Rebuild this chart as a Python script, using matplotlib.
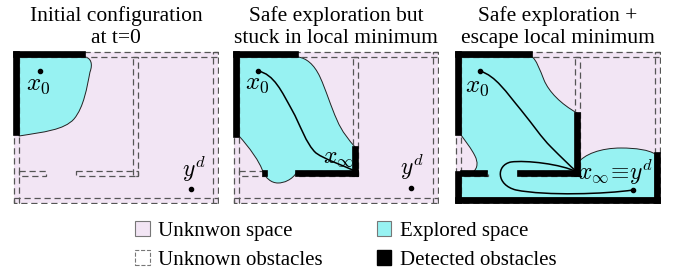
import matplotlib
matplotlib.use("Agg")
import matplotlib.pyplot as plt
from matplotlib.patches import Rectangle, PathPatch, Patch
from matplotlib.path import Path

plt.rcParams['font.family'] = ['Liberation Serif', 'DejaVu Serif']
plt.rcParams['mathtext.fontset'] = 'cm'

PINK = '#F2E5F4'
CYAN = '#97F2F2'
DASH = '#555555'

# panel titles
titles = ["Initial configuration\nat t=0",
          "Safe exploration but\nstuck in local minimum",
          "Safe exploration +\nescape local minimum"]
panel_left = [14, 234, 456]   # pixel position of each panel

# map walls (x, y, w, h) in panel units, y downwards
walls = [(0, 0, 204, 5), (0, 146, 204, 5), (0, 0, 5, 151), (199, 0, 5, 151),
         (119, 5, 5, 119), (62, 119, 62, 5), (5, 119, 27, 5)]

# detected obstacles per panel
detected = [
    [(0, 0, 71, 5), (0, 0, 5, 83)],
    [(0, 0, 64, 5), (0, 0, 5, 85), (119, 95, 5, 29), (62, 119, 62, 5), (29, 119, 4, 5)],
    [(0, 0, 76, 5), (0, 0, 5, 83), (0, 120, 5, 31), (0, 146, 204, 5),
     (199, 101, 5, 50), (119, 61, 5, 63), (62, 119, 62, 5), (5, 119, 26, 5)],
]

# explored regions (path commands)
explored = [
    [('M', (5, 5)), ('L', (71, 5)), ('C', (77, 6), (79, 12), (76, 20)),
     ('C', (73, 35), (70, 55), (60, 67)), ('C', (50, 78), (30, 80), (5, 84)), ('Z',)],
    [('M', (5, 5)), ('L', (64, 5)), ('C', (72, 6), (80, 12), (86, 25)),
     ('C', (92, 38), (97, 55), (103, 68)), ('C', (108, 80), (115, 88), (121, 95)),
     ('L', (121, 120)), ('L', (63, 120)), ('C', (58, 128), (50, 131), (44, 131)),
     ('C', (37, 131), (32, 126), (29, 120)), ('C', (26, 110), (15, 95), (5, 84)), ('Z',)],
    [('M', (5, 5)), ('L', (76, 5)), ('C', (80, 7), (84, 18), (88, 28)),
     ('C', (93, 40), (105, 52), (121, 61)), ('L', (121, 112)),
     ('C', (128, 102), (145, 96), (165, 96)), ('C', (180, 96), (193, 98), (199, 102)),
     ('L', (199, 146)), ('L', (5, 146)), ('L', (5, 120)), ('L', (17, 120)),
     ('C', (22, 116), (22, 110), (19, 104)), ('C', (15, 96), (10, 90), (5, 83)), ('Z',)],
]

# trajectories
trajectories = [
    [],
    [[('M', (24, 19)), ('C', (40, 22), (48, 40), (58, 58)), ('C', (66, 72), (72, 92), (82, 101)),
      ('C', (92, 108), (108, 113), (121, 119))]],
    [[('M', (24, 19)), ('C', (40, 24), (50, 40), (65, 58)), ('C', (78, 74), (85, 85), (95, 95)),
      ('C', (105, 105), (113, 113), (121, 120))],
     [('M', (121, 120)), ('C', (105, 112), (70, 108), (55, 110)), ('C', (40, 113), (40, 133), (60, 138)),
      ('C', (90, 144), (150, 142), (177, 138))]],
]

x0_pos = [(26, 19), (24, 19), (24, 19)]
x0_lbl = [(24, 33), (23, 32), (21, 35)]
goal_pos = [(177, 137), (177, 136), (177, 138)]
goal_lbl = [(180, 125, '$y^d$'), (178, 123, '$y^d$'), (159, 128, r'$x_\infty\!\equiv\!y^d$')]
xinf_lbl = [None, (104, 111), None]


def make_path(cmds):
    verts, codes = [], []
    for c in cmds:
        if c[0] == 'M':
            verts.append(c[1]); codes.append(Path.MOVETO)
        elif c[0] == 'L':
            verts.append(c[1]); codes.append(Path.LINETO)
        elif c[0] == 'C':
            verts.extend(c[1:]); codes.extend([Path.CURVE4] * 3)
        else:
            verts.append(verts[0]); codes.append(Path.CLOSEPOLY)
    return Path(verts, codes)


fig = plt.figure(figsize=(6.8, 2.75), dpi=100)

for i in range(3):
    L = panel_left[i]
    ax = fig.add_axes([(L - 1) / 680, 71 / 275, 206 / 680, 153 / 275])
    ax.set_xlim(-1, 205)
    ax.set_ylim(152, -1)
    ax.axis('off')

    ax.add_patch(Rectangle((0, 0), 204, 151, facecolor=PINK, edgecolor='none', zorder=1))
    ax.add_patch(PathPatch(make_path(explored[i]), facecolor=CYAN, edgecolor='#222222',
                           lw=0.7, zorder=2))
    for (x, y, w, h) in walls:
        ax.add_patch(Rectangle((x, y), w, h, fill=False, edgecolor=DASH, lw=0.9,
                               linestyle=(0, (5, 3)), zorder=3))
    for tr in trajectories[i]:
        ax.add_patch(PathPatch(make_path(tr), fill=False, edgecolor='black', lw=1.1, zorder=4))
    for (x, y, w, h) in detected[i]:
        # black edge so it covers the dashed outline beneath
        ax.add_patch(Rectangle((x, y), w, h, facecolor='black', edgecolor='black',
                               lw=1.2, zorder=5))

    ax.plot(*x0_pos[i], 'o', color='black', ms=3, zorder=6)
    ax.plot(*goal_pos[i], 'o', color='black', ms=3, zorder=6)
    ax.text(*x0_lbl[i], '$x_0$', fontsize=18, ha='center', va='center', zorder=7)
    gx, gy, gt = goal_lbl[i]
    ax.text(gx, gy, gt, fontsize=17, ha='center', va='baseline', zorder=7)
    if xinf_lbl[i]:
        ax.text(*xinf_lbl[i], r'$x_\infty$', fontsize=17, ha='center', va='baseline', zorder=7)

    ax.set_title(titles[i], fontsize=15.5, pad=6, linespacing=1.2)

legend_labels = ["Unknwon space", "Unknown obstacles", "Explored space", "Detected obstacles"]
handles = [Patch(facecolor=PINK, edgecolor='#777777', lw=0.8),
           Patch(fill=False, edgecolor='#777777', linestyle='--', lw=0.8),
           Patch(facecolor=CYAN, edgecolor='#777777', lw=0.8),
           Patch(facecolor='black', edgecolor='black')]
fig.legend(handles, legend_labels, ncol=2, loc='upper left', frameon=False,
           bbox_to_anchor=(135 / 680, 1 - 221 / 275), fontsize=15,
           handlelength=0.7, handleheight=0.7, handletextpad=0.4,
           columnspacing=2.6, labelspacing=0.45, borderpad=0, borderaxespad=0)

fig.savefig('out.png', dpi=100)
